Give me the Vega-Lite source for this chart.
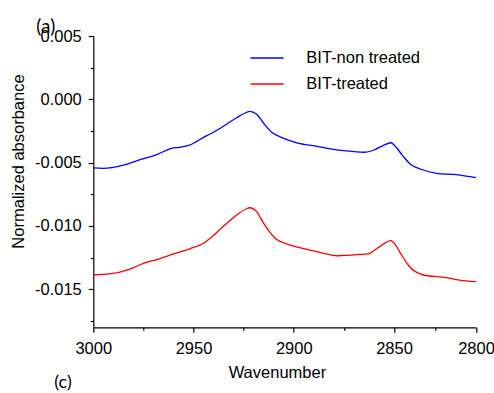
{
  "$schema": "https://vega.github.io/schema/vega-lite/v6.json",
  "width": 382.7,
  "height": 291.3,
  "autosize": "none",
  "padding": {"left": 93.3, "top": 36, "right": 18, "bottom": 65.7},
  "config": {
    "view": {"stroke": null},
    "font": "Liberation Sans"
  },
  "layer": [
    {
      "data": {
        "values": [
          {"sample": "BIT-non treated", "wavenumber": 3000, "absorbance": -0.00542},
          {"sample": "BIT-non treated", "wavenumber": 2995, "absorbance": -0.00545},
          {"sample": "BIT-non treated", "wavenumber": 2985, "absorbance": -0.00519},
          {"sample": "BIT-non treated", "wavenumber": 2977, "absorbance": -0.00479},
          {"sample": "BIT-non treated", "wavenumber": 2968, "absorbance": -0.00434},
          {"sample": "BIT-non treated", "wavenumber": 2961, "absorbance": -0.00387},
          {"sample": "BIT-non treated", "wavenumber": 2957, "absorbance": -0.00379},
          {"sample": "BIT-non treated", "wavenumber": 2952, "absorbance": -0.00361},
          {"sample": "BIT-non treated", "wavenumber": 2945, "absorbance": -0.00300},
          {"sample": "BIT-non treated", "wavenumber": 2942, "absorbance": -0.00276},
          {"sample": "BIT-non treated", "wavenumber": 2936, "absorbance": -0.00222},
          {"sample": "BIT-non treated", "wavenumber": 2928.5, "absorbance": -0.00145},
          {"sample": "BIT-non treated", "wavenumber": 2924, "absorbance": -0.00106},
          {"sample": "BIT-non treated", "wavenumber": 2922, "absorbance": -0.00095},
          {"sample": "BIT-non treated", "wavenumber": 2918.5, "absorbance": -0.00118},
          {"sample": "BIT-non treated", "wavenumber": 2915, "absorbance": -0.00189},
          {"sample": "BIT-non treated", "wavenumber": 2911, "absorbance": -0.00260},
          {"sample": "BIT-non treated", "wavenumber": 2905, "absorbance": -0.00308},
          {"sample": "BIT-non treated", "wavenumber": 2898.5, "absorbance": -0.00343},
          {"sample": "BIT-non treated", "wavenumber": 2889, "absorbance": -0.00369},
          {"sample": "BIT-non treated", "wavenumber": 2880, "absorbance": -0.00395},
          {"sample": "BIT-non treated", "wavenumber": 2875, "absorbance": -0.00405},
          {"sample": "BIT-non treated", "wavenumber": 2865, "absorbance": -0.00418},
          {"sample": "BIT-non treated", "wavenumber": 2860, "absorbance": -0.00400},
          {"sample": "BIT-non treated", "wavenumber": 2855, "absorbance": -0.00361},
          {"sample": "BIT-non treated", "wavenumber": 2851.5, "absorbance": -0.00343},
          {"sample": "BIT-non treated", "wavenumber": 2849.5, "absorbance": -0.00366},
          {"sample": "BIT-non treated", "wavenumber": 2845, "absorbance": -0.00440},
          {"sample": "BIT-non treated", "wavenumber": 2840, "absorbance": -0.00513},
          {"sample": "BIT-non treated", "wavenumber": 2834, "absorbance": -0.00550},
          {"sample": "BIT-non treated", "wavenumber": 2824, "absorbance": -0.00584},
          {"sample": "BIT-non treated", "wavenumber": 2812, "absorbance": -0.00595},
          {"sample": "BIT-non treated", "wavenumber": 2800, "absorbance": -0.00619},
          {"sample": "BIT-treated", "wavenumber": 3000, "absorbance": -0.01387},
          {"sample": "BIT-treated", "wavenumber": 2992, "absorbance": -0.01379},
          {"sample": "BIT-treated", "wavenumber": 2982, "absorbance": -0.01342},
          {"sample": "BIT-treated", "wavenumber": 2975, "absorbance": -0.01295},
          {"sample": "BIT-treated", "wavenumber": 2968, "absorbance": -0.01263},
          {"sample": "BIT-treated", "wavenumber": 2960, "absorbance": -0.01221},
          {"sample": "BIT-treated", "wavenumber": 2952, "absorbance": -0.01180},
          {"sample": "BIT-treated", "wavenumber": 2945, "absorbance": -0.01136},
          {"sample": "BIT-treated", "wavenumber": 2942, "absorbance": -0.01100},
          {"sample": "BIT-treated", "wavenumber": 2936, "absorbance": -0.01016},
          {"sample": "BIT-treated", "wavenumber": 2928.5, "absorbance": -0.00913},
          {"sample": "BIT-treated", "wavenumber": 2924, "absorbance": -0.00868},
          {"sample": "BIT-treated", "wavenumber": 2922, "absorbance": -0.00856},
          {"sample": "BIT-treated", "wavenumber": 2918.5, "absorbance": -0.00887},
          {"sample": "BIT-treated", "wavenumber": 2915, "absorbance": -0.00979},
          {"sample": "BIT-treated", "wavenumber": 2909.5, "absorbance": -0.01093},
          {"sample": "BIT-treated", "wavenumber": 2902, "absorbance": -0.01150},
          {"sample": "BIT-treated", "wavenumber": 2892, "absorbance": -0.01190},
          {"sample": "BIT-treated", "wavenumber": 2885, "absorbance": -0.01216},
          {"sample": "BIT-treated", "wavenumber": 2878.5, "absorbance": -0.01235},
          {"sample": "BIT-treated", "wavenumber": 2875, "absorbance": -0.01232},
          {"sample": "BIT-treated", "wavenumber": 2863, "absorbance": -0.01221},
          {"sample": "BIT-treated", "wavenumber": 2858, "absorbance": -0.01172},
          {"sample": "BIT-treated", "wavenumber": 2851.5, "absorbance": -0.01116},
          {"sample": "BIT-treated", "wavenumber": 2850.3, "absorbance": -0.01129},
          {"sample": "BIT-treated", "wavenumber": 2846, "absorbance": -0.01216},
          {"sample": "BIT-treated", "wavenumber": 2841, "absorbance": -0.01314},
          {"sample": "BIT-treated", "wavenumber": 2832, "absorbance": -0.01387},
          {"sample": "BIT-treated", "wavenumber": 2818, "absorbance": -0.01408},
          {"sample": "BIT-treated", "wavenumber": 2810, "absorbance": -0.01427},
          {"sample": "BIT-treated", "wavenumber": 2800, "absorbance": -0.01440}
        ]
      },
      "mark": {"type": "line", "interpolate": "monotone", "strokeWidth": 1.3},
      "encoding": {
        "x": {
          "field": "wavenumber",
          "type": "quantitative",
          "scale": {"domain": [3000, 2850, 2800], "range": [0, 300.7, 382.7]},
          "axis": {
            "values": [3000, 2975, 2950, 2925, 2900, 2875, 2850, 2825, 2800],
            "tickCount": 20,
            "labelExpr": "datum.value % 50 === 0 ? format(datum.value, 'd') : ''",
            "tickSize": {"condition": {"test": "datum.value % 50 === 0", "value": 5}, "value": 3},
            "grid": false,
            "domainColor": "#000000",
            "domainWidth": 1.2,
            "tickColor": "#000000",
            "tickWidth": 1.2,
            "labelColor": "#000000",
            "labelFontSize": 16.5,
            "labelPadding": 8,
            "labelFlush": false,
            "labelOverlap": false,
            "title": "Wavenumber",
            "titleColor": "#000000",
            "titleFontSize": 16.5,
            "titleFontWeight": "normal",
            "titleX": 183.6,
            "titleY": 45,
            "titleBaseline": "middle",
            "titleAlign": "center"
          }
        },
        "y": {
          "field": "absorbance",
          "type": "quantitative",
          "scale": {"domain": [-0.018, 0.005], "nice": false, "zero": false},
          "axis": {
            "values": [0.005, 0.0025, 0, -0.0025, -0.005, -0.0075, -0.01, -0.0125, -0.015, -0.0175],
            "tickCount": 20,
            "labelExpr": "abs(abs(datum.value * 400) % 2 - 1) > 0.5 ? (datum.value < -0.0001 ? '-' : '') + format(abs(datum.value), '.3f') : ''",
            "tickSize": {"condition": {"test": "abs(abs(datum.value * 400) % 2 - 1) > 0.5", "value": 5}, "value": 3},
            "grid": false,
            "domainColor": "#000000",
            "domainWidth": 1.2,
            "tickColor": "#000000",
            "tickWidth": 1.2,
            "labelColor": "#000000",
            "labelFontSize": 16.5,
            "labelPadding": 7,
            "labelFlush": false,
            "labelOverlap": false,
            "title": "Normalized absorbance",
            "titleColor": "#000000",
            "titleFontSize": 16.5,
            "titleFontWeight": "normal",
            "titleAngle": -90,
            "titleX": -75.3,
            "titleY": 125,
            "titleBaseline": "middle",
            "titleAlign": "center"
          }
        },
        "color": {
          "field": "sample",
          "type": "nominal",
          "scale": {"domain": ["BIT-non treated", "BIT-treated"], "range": ["#0000ff", "#ff0000"]},
          "legend": {
            "orient": "none",
            "legendX": 165.5,
            "legendY": 13.7,
            "title": null,
            "padding": 0,
            "symbolType": "M-3,0H3",
            "symbolSize": 121,
            "symbolStrokeWidth": 1.5,
            "labelFontSize": 16.5,
            "labelColor": "#000000",
            "labelOffset": 31,
            "rowPadding": 9
          }
        }
      }
    },
    {
      "data": {"values": [{"panel": "(a)"}]},
      "mark": {"type": "text", "font": "Lato", "fontSize": 19, "align": "center", "baseline": "middle", "color": "#000000"},
      "encoding": {
        "text": {"field": "panel"},
        "x": {"datum": 3023.7},
        "y": {"datum": 0.00573}
      }
    },
    {
      "data": {"values": [{"panel": "(c)"}]},
      "mark": {"type": "text", "font": "Lato", "fontSize": 18, "align": "center", "baseline": "middle", "color": "#000000"},
      "encoding": {
        "text": {"field": "panel"},
        "x": {"datum": 3015.1},
        "y": {"datum": -0.0224}
      }
    }
  ]
}
